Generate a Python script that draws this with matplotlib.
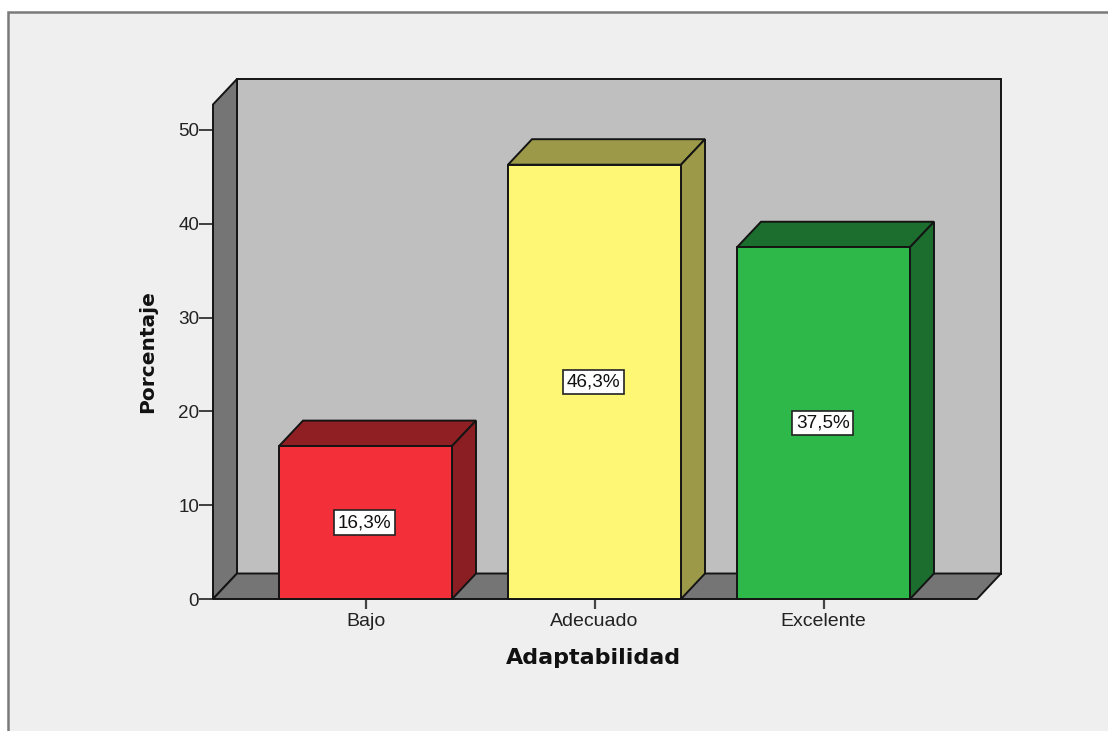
#!/usr/bin/env python
import matplotlib
matplotlib.use('Agg')
import matplotlib.pyplot as plt
from matplotlib.patches import Polygon, Rectangle

categories = ['Bajo', 'Adecuado', 'Excelente']
values = [16.3, 46.3, 37.5]
value_labels = ['16,3%', '46,3%', '37,5%']
y_ticks = [0, 10, 20, 30, 40, 50]

front_cols = ['#f33039', '#fdf775', '#2eb84a']
top_cols = ['#8f1f23', '#9c9a48', '#1c6e2e']
side_cols = ['#8a1e22', '#9c9a48', '#1c6e2e']

W, H = 1108, 731
# pixel positions of the plot box in the picture
left, right, y0, y50 = 213, 977, 599, 130
spacing = 229.0
cx0 = 365.5
px_per_unit = (y0 - y50) / 50.0

xmin = (left - cx0) / spacing
xmax = (right - cx0) / spacing
ymax = (y0 - 104.5) / px_per_unit
dx = 24 / spacing       # depth offset
dy = 25.5 / px_per_unit
bw = 173 / spacing
lw = 1.4
edge = '#141414'

fig = plt.figure(figsize=(W / 100, H / 100), dpi=100, facecolor='white')

# grey panel with the window frame
bg = fig.add_axes([0, 0, 1, 1])
bg.set_xlim(0, W)
bg.set_ylim(H, 0)
bg.axis('off')
bg.add_patch(Rectangle((8, 12), W + 10, H + 10, facecolor='#efefef',
                       edgecolor='#7a7a7a', linewidth=1.8))

ax = fig.add_axes([left / W, 1 - y0 / H, (right - left) / W, (y0 - 104.5) / H])
ax.patch.set_alpha(0)
ax.set_xlim(xmin, xmax)
ax.set_ylim(0, ymax)


def poly(pts, col, z):
    ax.add_patch(Polygon(pts, closed=True, facecolor=col, edgecolor=edge,
                         linewidth=lw, joinstyle='miter', clip_on=False, zorder=z))


# walls and floor
poly([(xmin + dx, dy), (xmax + dx, dy), (xmax + dx, ymax + dy), (xmin + dx, ymax + dy)], '#bfbfbf', 1)
poly([(xmin, 0), (xmin + dx, dy), (xmin + dx, ymax + dy), (xmin, ymax)], '#757575', 2)
poly([(xmin, 0), (xmax, 0), (xmax + dx, dy), (xmin + dx, dy)], '#757575', 2)

for i in range(3):
    x1 = i - bw / 2
    x2 = i + bw / 2
    v = values[i]
    poly([(x1, v), (x2, v), (x2 + dx, v + dy), (x1 + dx, v + dy)], top_cols[i], 3)
    poly([(x2, 0), (x2 + dx, dy), (x2 + dx, v + dy), (x2, v)], side_cols[i], 3)
    poly([(x1, 0), (x2, 0), (x2, v), (x1, v)], front_cols[i], 4)
    ax.text(i - 0.003, v / 2, value_labels[i], ha='center', va='center', zorder=5,
            fontsize=13.6, family='Liberation Sans', color='#111111',
            bbox=dict(boxstyle='square,pad=0.2', facecolor='white', edgecolor='#222222', linewidth=1.2))

for s in ax.spines.values():
    s.set_visible(False)

ax.set_xticks(range(3))
ax.set_xticklabels(categories, fontsize=14, family='Liberation Sans', color='#222222')
ax.set_yticks(y_ticks)
ax.set_yticklabels([str(t) for t in y_ticks], fontsize=13.6, family='Liberation Sans', color='#222222')
ax.tick_params(axis='x', length=7.5, width=1.6, color='#444444', pad=2.5)
ax.tick_params(axis='y', length=10, width=1.2, color='#222222', pad=0)

fig.text(593.5 / W, 1 - 658 / H, 'Adaptabilidad', ha='center', va='center',
         fontsize=16, fontweight='bold', family='DejaVu Sans', color='#111111')
fig.text(148 / W, 1 - 352 / H, 'Porcentaje', ha='center', va='center', rotation=90,
         fontsize=14.5, fontweight='bold', family='DejaVu Sans', color='#111111')

plt.savefig('out.png', dpi=100, facecolor='white')
plt.close()
